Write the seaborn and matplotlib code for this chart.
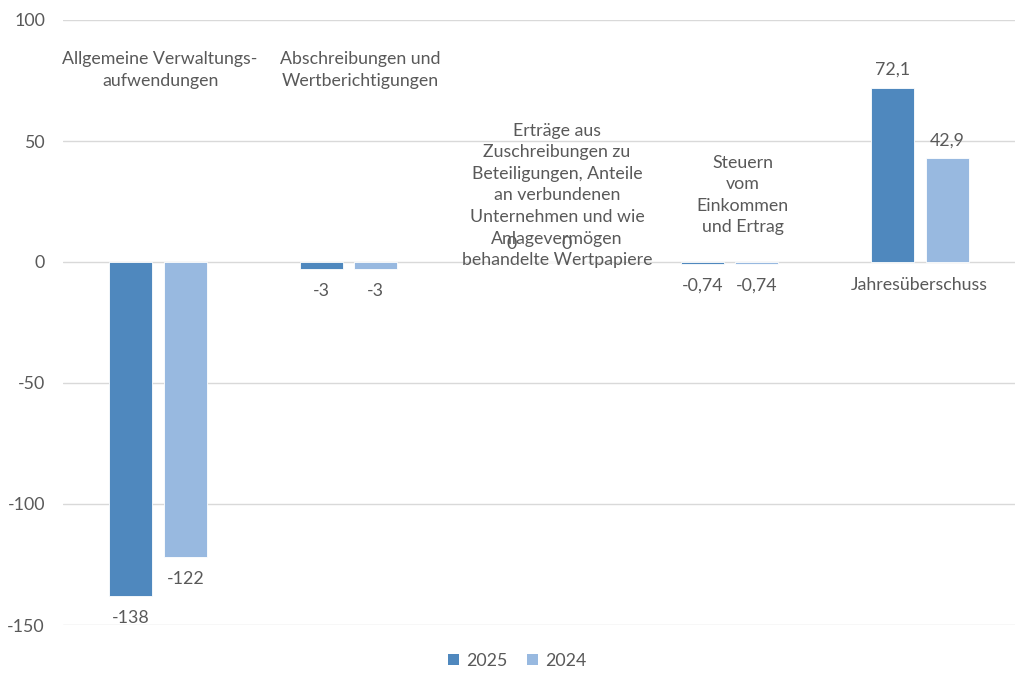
import matplotlib
matplotlib.use("Agg")
import matplotlib.pyplot as plt
from matplotlib.patches import Patch
import seaborn as sns
import pandas as pd

categories = [
    "Allgemeine Verwaltungs-\naufwendungen",
    "Abschreibungen und\nWertberichtigungen",
    "Erträge aus\nZuschreibungen zu\nBeteiligungen, Anteile\nan verbundenen\nUnternehmen und wie\nAnlagevermögen\nbehandelte Wertpapiere",
    "Steuern\nvom\nEinkommen\nund Ertrag",
    "Jahresüberschuss",
]
series_names = ["2025", "2024"]
values_2025 = [-138, -3, 0, -0.74, 72.1]
values_2024 = [-122, -3, 0, -0.74, 42.9]
colors = ["#4F88BE", "#98B9E0"]

# label placement (category-index x, data y)
label_x = [0.01, 1.06, 2.095, 3.07, 4.0]
label_y = [79.3, 79.3, 27.5, 27.7, -9.5]

sns.set_theme(style="white")
FONT = ["Lato", "DejaVu Sans"]
plt.rcParams["font.family"] = FONT
TXT = "#595959"
FS = 12.8

df = pd.DataFrame({
    "cat": categories * 2,
    "year": [series_names[0]] * 5 + [series_names[1]] * 5,
    "value": values_2025 + values_2024,
})

fig = plt.figure(figsize=(10.34, 6.88), dpi=100)
ax = fig.add_axes([63 / 1034, 1 - 625 / 688, (1015 - 63) / 1034, (625 - 20) / 688])

sns.barplot(data=df, x="cat", y="value", hue="year", hue_order=series_names,
            order=categories, palette=colors, width=0.572, gap=0.21,
            edgecolor="white", linewidth=0.6, saturation=1, errorbar=None,
            legend=False, ax=ax, zorder=3)

ax.set_ylim(-150, 100)
ax.set_xlim(-0.5, 4.5)
ax.set_yticks([-150, -100, -50, 0, 50, 100])
ax.set_yticklabels(["-150", "-100", "-50", "0", "50", "100"])
ax.grid(axis="y", color="#D9D9D9", linewidth=1, zorder=0)
ax.set_axisbelow(True)
ax.set_xlabel("")
ax.set_ylabel("")
ax.set_xticks([])
for s in ax.spines.values():
    s.set_visible(False)
ax.tick_params(axis="y", length=0, pad=13, labelsize=FS, labelcolor=TXT)

def fmt(v):
    return ("%g" % v).replace(".", ",")

for cont, vals in zip(ax.containers, [values_2025, values_2024]):
    for bar, v in zip(cont.patches, vals):
        xc = bar.get_x() + bar.get_width() / 2
        if v < 0:
            ax.annotate(fmt(v), (xc, v), xytext=(0, -10), textcoords="offset points",
                        ha="center", va="top", fontsize=FS, color=TXT, zorder=5)
        else:
            ax.annotate(fmt(v), (xc, v), xytext=(0, 7), textcoords="offset points",
                        ha="center", va="bottom", fontsize=FS, color=TXT, zorder=5)

for cat, x, y in zip(categories, label_x, label_y):
    ax.text(x, y, cat, ha="center", va="center", fontsize=FS, color=TXT,
            linespacing=1.43, zorder=4)

handles = [Patch(facecolor=c, edgecolor="none", label=n) for c, n in zip(colors, series_names)]
fig.legend(handles=handles, loc="center", bbox_to_anchor=(0.5, 1 - 661 / 688),
           ncol=2, frameon=False, fontsize=FS, labelcolor=TXT,
           handlelength=0.6, handleheight=0.6, handletextpad=0.4, columnspacing=1.1)

fig.savefig("out.png", dpi=100)
